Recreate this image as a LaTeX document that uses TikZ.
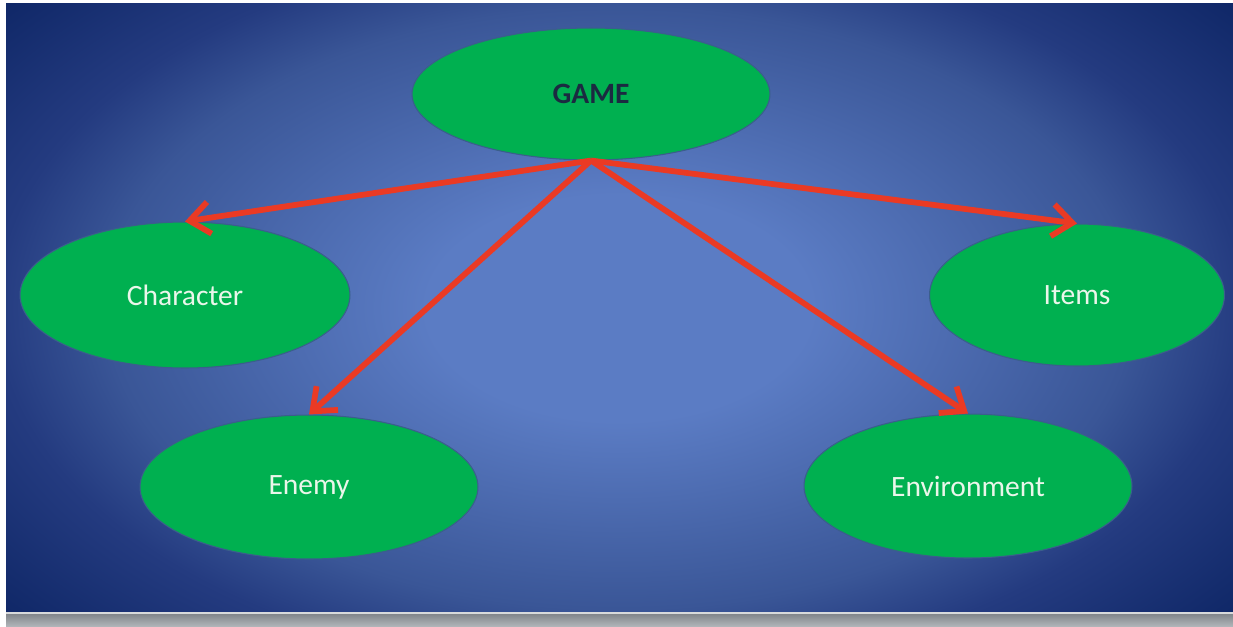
\documentclass[tikz,border=0pt]{standalone}
\usepackage{fontspec}
\setmainfont{Carlito}
\usepackage{xcolor,tikz}
\usetikzlibrary{arrows.meta,shapes.geometric}
\definecolor{bgin}{HTML}{5B7CC4}
\definecolor{bgtop}{HTML}{3A5697}
\definecolor{bgside}{HTML}{243B80}
\definecolor{bgcorner}{HTML}{102868}
\definecolor{leaf}{HTML}{00B050}
\definecolor{rim}{HTML}{3B5E8C}
\definecolor{redarr}{HTML}{EA3A24}
\definecolor{gametxt}{HTML}{1B2A41}
\definecolor{lbl}{HTML}{EAF6EA}
\definecolor{bandtop}{HTML}{7E8388}
\definecolor{bandbot}{HTML}{B0B4B8}
\pgfdeclareradialshading{bgglow}{\pgfpoint{0bp}{0bp}}{color(0bp)=(bgin); color(6bp)=(bgin); color(16bp)=(bgtop); color(19.5bp)=(bgside); color(25bp)=(bgcorner); color(50bp)=(bgcorner)}
\tikzset{blob/.style={ellipse,draw=rim,line width=.6pt,fill=leaf,inner sep=0pt,text=lbl,font=\fontsize{16.8}{20}\selectfont},
 lnk/.style={draw=redarr,line width=.115cm,-{Straight Barb[length=4mm,width=6.4mm]}}}
\begin{document}
\begin{tikzpicture}[x=.02cm,y=-.02cm]
\useasboundingbox(0,0)rectangle(1233,626);
\fill[white](0,0)rectangle(1233,626);
\begin{scope}
\clip(6,3)rectangle(1233,613);
\fill[bgcorner](6,3)rectangle(1233,613);
\shade[shading=bgglow](619,308)ellipse[x radius=16cm,y radius=9.4cm];
\end{scope}
\shade[top color=bandtop,bottom color=bandbot](6,613)rectangle(1233,626);
\draw[white!70!bandtop,line width=.6pt](6,613)--(1233,613);
% nodes
\node[blob,minimum width=7.16cm,minimum height=2.64cm,text=gametxt,font=\fontsize{16.8}{20}\selectfont\bfseries](game) at(591,94){GAME};
\node[blob,minimum width=6.6cm,minimum height=2.92cm](chr) at(185,295){Character};
\node[blob,minimum width=5.9cm,minimum height=2.84cm](itm) at(1077,295){Items};
\node[blob,minimum width=6.76cm,minimum height=2.88cm](enm) at(309,487){Enemy};
\node[blob,minimum width=6.56cm,minimum height=2.88cm](env) at(968,486){Environment};
% links
\draw[lnk](game.south)--(chr.north);
\draw[lnk](game.south)--(enm.north);
\draw[lnk](game.south)--(env.north);
\draw[lnk](game.south)--(itm.north);
\end{tikzpicture}
\end{document}
